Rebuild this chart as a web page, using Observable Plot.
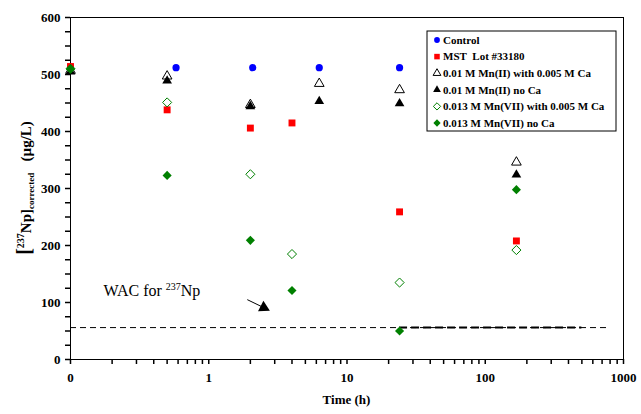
<!DOCTYPE html>
<html><head><meta charset="utf-8">
<script src="https://cdn.jsdelivr.net/npm/d3@7"></script>
<script src="https://cdn.jsdelivr.net/npm/@observablehq/plot@0.6"></script>
<style>body{margin:0;background:#fff}#chart{width:641px;height:414px}</style>
</head><body><div id="chart"></div>
<script>
// ---- data ----
const seriesNames = ["Control", "MST  Lot #33180", "0.01 M Mn(II) with 0.005 M Ca", "0.01 M Mn(II) no Ca", "0.013 M Mn(VII) with 0.005 M Ca", "0.013 M Mn(VII) no Ca"];
const seriesColors = ["#0000ff", "#ff0000", "#000000", "#000000", "#008000", "#008000"];
const seriesSymbols = ["circle", "square", "triangle", "triangle", "diamond2", "diamond2"];
const seriesFilled = [true, true, false, true, false, true];

const controlTimes = [0, 0.58, 2.08, 6.3, 24];
const controlValues = [512, 512, 512, 512, 512];
const mstTimes = [0, 0.5, 2, 4, 24, 168];
const mstValues = [514, 438, 406, 415, 259, 208];
const mn2CaTimes = [0, 0.5, 2, 6.3, 24, 168];
const mn2CaValues = [507, 497, 447, 484, 473, 346];
const mn2Times = [0, 0.5, 2, 6.3, 24, 168];
const mn2Values = [505, 489, 444, 453, 449, 324];
const mn7CaTimes = [0, 0.5, 2, 4, 24, 168];
const mn7CaValues = [510, 451, 325, 185, 135, 192];
const mn7Times = [0, 0.5, 2, 4, 24, 168];
const mn7Values = [510, 323, 209, 121, 50, 298];

const xTicks = [0.1, 1, 10, 100, 1000];
const xTickLabels = ["0", "1", "10", "100", "1000"];
const xMinorMultipliers = [2, 3, 4, 5, 6, 7, 8, 9];
const yTicks = [0, 100, 200, 300, 400, 500, 600];
const yMinorTicks = [25, 50, 75, 125, 150, 175, 225, 250, 275, 325, 350, 375, 425, 450, 475, 525, 550, 575];

const wacLimit = 56;
const wacRange = [0.1, 800];
const wacBoldRange = [24, 500];
const wacLabelPos = {t: 0.175, v: 110};
const arrowTail = {t: 1.9, v: 105};
const arrowHead = {t: 2.5, v: 91};

// ---- build ----
const seriesTimes = [controlTimes, mstTimes, mn2CaTimes, mn2Times, mn7CaTimes, mn7Times];
const seriesValues = [controlValues, mstValues, mn2CaValues, mn2Values, mn7CaValues, mn7Values];
const symR = {circle: 3.6, square: 3.9, triangle: 3.6, diamond2: 4.1};
const toX = t => (t === 0 ? xTicks[0] : t); // time 0 drawn at the axis origin (labelled "0")

const dotMarks = seriesNames.map((name, i) => {
  const data = seriesTimes[i].map((t, j) => ({t: toX(t), v: seriesValues[i][j]}));
  return Plot.dot(data, {
    x: "t", y: "v", symbol: seriesSymbols[i], r: symR[seriesSymbols[i]],
    fill: seriesFilled[i] ? seriesColors[i] : "none",
    stroke: seriesFilled[i] ? "none" : seriesColors[i], strokeWidth: 1
  });
});

const xMinor = xTicks.slice(0, -1).flatMap(d => xMinorMultipliers.map(m => d * m));

const chart = Plot.plot({
  width: 641, height: 414,
  marginLeft: 70, marginRight: 18, marginTop: 17, marginBottom: 55,
  style: {fontFamily: "'Liberation Serif', 'Times New Roman', serif", fontSize: "13px", fontWeight: "bold", background: "white", color: "black", overflow: "visible"},
  x: {type: "log", domain: [0.1, 1000]},
  y: {domain: [0, 600]},
  marks: [
    Plot.frame({stroke: "black"}),
    Plot.axisY(yMinorTicks, {tickSize: 5, tickFormat: () => "", label: null, stroke: "black", strokeWidth: 1.5}),
    Plot.axisY(yTicks, {tickSize: 5, tickPadding: 5, label: null, stroke: "black", strokeWidth: 1.5}),
    Plot.axisX(xMinor, {tickSize: 5, tickFormat: () => "", label: null, stroke: "black", strokeWidth: 1.5}),
    Plot.axisX(xTicks, {tickSize: 5, tickPadding: 8, label: null, stroke: "black", strokeWidth: 1.5, tickFormat: d => xTickLabels[xTicks.indexOf(d)]}),
    Plot.ruleY([{v: wacLimit, a: wacRange[0], b: wacRange[1]}], {y: "v", x1: "a", x2: "b", stroke: "black", strokeWidth: 1, strokeDasharray: "6,4"}),
    Plot.ruleY([{v: wacLimit, a: wacBoldRange[0], b: wacBoldRange[1]}], {y: "v", x1: "a", x2: "b", stroke: "black", strokeWidth: 2, strokeDasharray: "8,4"}),
    Plot.link([{t1: arrowTail.t, v1: arrowTail.v, t2: arrowHead.t, v2: arrowHead.v}], {x1: "t1", y1: "v1", x2: "t2", y2: "v2", stroke: "black", strokeWidth: 1}),
    Plot.dot([arrowHead], {x: "t", y: "v", symbol: "triangle", r: 4.4, fill: "black", rotate: 117}),
    ...dotMarks
  ]
});
document.getElementById("chart").appendChild(chart);

// ---- rich text annotations & legend ----
const svg = d3.select(chart);
const sx = chart.scale("x"), sy = chart.scale("y");
const nb = "\u00a0";

// x axis title
svg.append("text").attr("x", (sx.apply(0.1) + sx.apply(1000)) / 2).attr("y", 404)
  .attr("text-anchor", "middle").attr("font-size", 13).attr("font-weight", "bold").text("Time (h)");

// y axis title
const yl = svg.append("text")
  .attr("transform", `translate(31,${(sy.apply(0) + sy.apply(600)) / 2}) rotate(-90)`)
  .attr("text-anchor", "middle").attr("font-size", 15).attr("font-weight", "bold");
yl.append("tspan").attr("font-size", 20).text("[");
yl.append("tspan").attr("font-size", 10).attr("dy", -7).text("237");
yl.append("tspan").attr("dy", 7).text("Np]");
yl.append("tspan").attr("font-size", 9).attr("dy", 3).text("corrected");
yl.append("tspan").attr("dy", -3).text(nb + nb + nb + "(µg/L)");

// WAC label
const wl = svg.append("text").attr("x", sx.apply(wacLabelPos.t)).attr("y", sy.apply(wacLabelPos.v))
  .attr("text-anchor", "start").attr("font-size", 16).attr("font-weight", "normal");
wl.append("tspan").text("WAC for ");
wl.append("tspan").attr("font-size", 10).attr("dy", -6).text("237");
wl.append("tspan").attr("dy", 6).text("Np");

// legend
const lg = svg.append("g").attr("transform", "translate(427,31)");
lg.append("rect").attr("width", 189).attr("height", 100).attr("fill", "white").attr("stroke", "black");
const symType = {circle: d3.symbolCircle, square: d3.symbolSquare, triangle: d3.symbolTriangle, diamond2: d3.symbolDiamond2};
seriesNames.forEach((name, i) => {
  const y = 9 + i * 16.6;
  const r = symR[seriesSymbols[i]] * 0.8;
  lg.append("path").attr("transform", `translate(10,${y})`)
    .attr("d", d3.symbol(symType[seriesSymbols[i]], r * r * Math.PI)())
    .attr("fill", seriesFilled[i] ? seriesColors[i] : "none")
    .attr("stroke", seriesFilled[i] ? "none" : seriesColors[i]);
  lg.append("text").attr("x", 16).attr("y", y).attr("dy", "0.35em").attr("text-anchor", "start")
    .attr("font-size", 11).attr("font-weight", "bold").text(name.replace(/  /g, nb + nb));
});
</script>
</body></html>
